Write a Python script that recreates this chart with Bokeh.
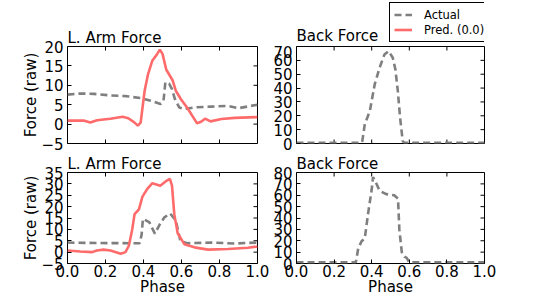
import math
from bokeh.plotting import figure
from bokeh.layouts import column, row
from bokeh.models import Range1d, FixedTicker, Legend, LegendItem
from bokeh.core.properties import value
from bokeh.embed import file_html
from bokeh.resources import INLINE

FONT = "DejaVu Sans"
RED = "#ff6b6b"
GRAY = "#7f7f7f"

# ---- data ----
x_ticks = [0.0, 0.2, 0.4, 0.6, 0.8, 1.0]
x_tick_labels = ["0.0", "0.2", "0.4", "0.6", "0.8", "1.0"]

arm_top_ticks = [-5, 0, 5, 10, 15, 20]
arm_bot_ticks = [-5, 0, 5, 10, 15, 20, 25, 30, 35]
back_top_ticks = [0, 10, 20, 30, 40, 50, 60, 70]
back_bot_ticks = [0, 10, 20, 30, 40, 50, 60, 70, 80]

tl_pred_x = [0, 0.085, 0.12, 0.155, 0.226, 0.29, 0.32, 0.35, 0.37, 0.385, 0.406, 0.424, 0.447, 0.47, 0.486, 0.5, 0.52, 0.553, 0.57, 0.597, 0.63, 0.682, 0.703, 0.724, 0.753, 0.81, 0.88, 1.0]
tl_pred_y = [0.9, 0.9, 0.4, 1.0, 1.4, 1.9, 1.5, 0.5, -0.4, 0.4, 8.6, 12.9, 16.4, 17.9, 19.2, 18.1, 14.0, 11.3, 8.6, 6.4, 4.2, 0.2, 0.6, 1.4, 0.7, 1.3, 1.6, 1.8]

tl_act_x = [0, 0.067, 0.138, 0.226, 0.31, 0.385, 0.438, 0.49, 0.505, 0.515, 0.535, 0.55, 0.565, 0.588, 0.615, 0.668, 0.756, 0.845, 0.9, 1.0]
tl_act_y = [7.6, 7.9, 7.8, 7.4, 7.2, 6.7, 6.0, 5.2, 5.8, 10.8, 10.4, 9.0, 6.5, 4.3, 3.9, 4.3, 4.5, 4.7, 4.1, 5.0]

bl_pred_x = [0, 0.067, 0.13, 0.155, 0.19, 0.226, 0.28, 0.305, 0.323, 0.34, 0.353, 0.376, 0.394, 0.42, 0.447, 0.46, 0.488, 0.518, 0.539, 0.55, 0.562, 0.58, 0.615, 0.668, 0.74, 0.845, 0.95, 1.0]
bl_pred_y = [0.7, 0.3, 0.0, 0.7, 1.1, 0.7, -0.7, 0.0, 2.8, 9.7, 16.7, 18.8, 24.3, 27.8, 30.3, 29.9, 29.2, 31.2, 32.2, 29.2, 16.7, 8.3, 3.5, 2.1, 1.1, 1.4, 1.9, 2.5]

bl_act_x = [0, 0.15, 0.38, 0.39, 0.397, 0.43, 0.46, 0.483, 0.51, 0.54, 0.57, 0.594, 0.63, 0.756, 0.88, 1.0]
bl_act_y = [4.2, 4.0, 3.9, 7.6, 14.6, 13.2, 8.1, 11.8, 15.3, 17.0, 13.9, 4.9, 3.9, 4.2, 3.8, 4.2]

tr_act_x = [0, 0.2, 0.345, 0.35, 0.363, 0.39, 0.416, 0.442, 0.468, 0.49, 0.512, 0.526, 0.539, 0.551, 0.565, 0.574, 0.8, 1.0]
tr_act_y = [0.5, 0.5, 0.5, 1.7, 13.7, 23.4, 42.7, 54.7, 64.3, 66.7, 61.9, 53.5, 37.8, 18.6, 1.7, 0.5, 0.5, 0.5]

br_act_x = [0, 0.2, 0.315, 0.32, 0.328, 0.346, 0.363, 0.38, 0.4, 0.407, 0.42, 0.442, 0.477, 0.52, 0.54, 0.547, 0.56, 0.574, 0.586, 0.6, 0.8, 1.0]
br_act_y = [1.0, 1.0, 1.0, 5.0, 13.0, 19.5, 22.0, 43.0, 65.0, 76.0, 72.0, 64.0, 61.0, 60.0, 57.0, 30.0, 10.0, 6.0, 5.0, 1.0, 1.0, 1.0]

legend_labels = ["Actual", "Pred. (0.0)"]
titles = ["L. Arm Force", "Back Force"]


def minus(v):
    return str(v).replace("-", "\u2212")


def make_fig(width, height, bl, br, bt, bb, yr, yticks, title, show_x, ylabel):
    p = figure(width=width, height=height, x_range=Range1d(0, 1), y_range=Range1d(*yr),
               output_backend="svg", toolbar_location=None,
               x_axis_location="below" if show_x else None, y_axis_location="left",
               min_border_left=bl, min_border_right=br, min_border_top=bt, min_border_bottom=bb)
    p.grid.visible = False
    p.outline_line_color = "black"
    p.outline_line_width = 1
    p.outline_line_alpha = 1
    p.background_fill_color = "white"
    p.border_fill_color = "white"

    axes = [p.yaxis[0]]
    ya = p.yaxis[0]
    ya.ticker = FixedTicker(ticks=yticks)
    ya.major_label_overrides = {t: minus(t) for t in yticks}
    ya.major_label_standoff = 4
    if show_x:
        xa = p.xaxis[0]
        xa.ticker = FixedTicker(ticks=x_ticks)
        xa.major_label_overrides = {t: l for t, l in zip(x_ticks, x_tick_labels)}
        axes.append(xa)
    for ax in axes:
        ax.major_tick_in = 4
        ax.major_tick_out = 0
        ax.minor_tick_in = 0
        ax.minor_tick_out = 0
        ax.axis_line_color = None
        ax.major_tick_line_color = "black"
        ax.major_label_text_font = FONT
        ax.major_label_text_font_size = "15px"
        ax.major_label_text_color = "black"
        ax.axis_label_text_font = FONT
        ax.axis_label_text_font_size = "15px"
        ax.axis_label_text_font_style = "normal"
        ax.axis_label_text_color = "black"
    if show_x:
        xa.major_label_standoff = 1
        xa.axis_label = "Phase"
        xa.axis_label_standoff = -2
    if ylabel:
        ya.axis_label = ylabel
        ya.axis_label_standoff = -2

    # inward ticks on the remaining sides
    ymin, ymax = yr
    p.ray(x=[1.0] * len(yticks), y=yticks, length=4, length_units="screen", angle=math.pi,
          line_color="black", line_width=1)
    p.ray(x=x_ticks, y=[ymax] * len(x_ticks), length=4, length_units="screen", angle=-math.pi / 2,
          line_color="black", line_width=1)
    if not show_x:
        p.ray(x=x_ticks, y=[ymin] * len(x_ticks), length=4, length_units="screen", angle=math.pi / 2,
              line_color="black", line_width=1)

    if title:
        p.title.text = title
        p.title.align = "left"
        p.title.text_font = FONT
        p.title.text_font_size = "15px"
        p.title.text_font_style = "normal"
        p.title.text_color = "black"
        p.title.standoff = 0
        p.title.offset = 0
    return p


LW = 2.6
DASH = "7 4"

# top-left
p1 = make_fig(270, 152, 67, 13, 46, 9, (-5, 20), arm_top_ticks, titles[0], False, "Force (raw)")
p1.line(tl_act_x, tl_act_y, line_color=GRAY, line_width=LW, line_dash=DASH)
p1.line(tl_pred_x, tl_pred_y, line_color=RED, line_width=LW)

# top-right: header strip (title + legend) above the plot body; its frame is
# aligned with the body's frame, ranges are in pixels of that strip
head = figure(width=250, height=45, x_range=Range1d(0, 191), y_range=Range1d(0, 45),
              output_backend="svg", toolbar_location=None,
              x_axis_location=None, y_axis_location=None,
              min_border_left=0, min_border_right=0, min_border_top=0, min_border_bottom=0)
head.grid.visible = False
head.outline_line_color = None
head.background_fill_color = "white"
head.border_fill_color = "white"
head.text(x=[0], y=[1], text=[titles[1]], text_font=value(FONT), text_font_size=value("15px"),
          text_color="black", text_baseline="bottom", text_align="left")
r_act_leg = head.line(tr_act_x, tr_act_y, line_color=GRAY, line_width=LW, line_dash=DASH, visible=False)
r_pred_leg = head.line(tl_pred_x, tl_pred_y, line_color=RED, line_width=LW, visible=False)
legend = Legend(items=[LegendItem(label=legend_labels[0], renderers=[r_act_leg]),
                       LegendItem(label=legend_labels[1], renderers=[r_pred_leg])],
                location=(93, 3))
legend.label_text_font = FONT
legend.label_text_font_size = "11.5px"
legend.label_text_color = "black"
legend.border_line_color = "black"
legend.border_line_width = 1.3
legend.border_line_alpha = 1
legend.background_fill_color = "white"
legend.background_fill_alpha = 1
legend.inactive_fill_alpha = 0
legend.padding = 4
legend.spacing = 0
legend.margin = 0
legend.label_height = 15
legend.glyph_height = 15
legend.glyph_width = 18
legend.label_standoff = 12
head.add_layout(legend, "center")

p2 = make_fig(250, 107, 23, 36, 1, 9, (0, 70), back_top_ticks, None, False, None)
p2.line(tr_act_x, tr_act_y, line_color=GRAY, line_width=LW, line_dash=DASH)

# bottom row
p3 = make_fig(270, 146, 67, 13, 16, 33, (-5, 35), arm_bot_ticks, titles[0], True, "Force (raw)")
p3.line(bl_act_x, bl_act_y, line_color=GRAY, line_width=LW, line_dash=DASH)
p3.line(bl_pred_x, bl_pred_y, line_color=RED, line_width=LW)

p4 = make_fig(250, 146, 23, 36, 16, 33, (0, 80), back_bot_ticks, titles[1], True, None)
p4.line(br_act_x, br_act_y, line_color=GRAY, line_width=LW, line_dash=DASH)

layout = column(row(p1, column(head, p2)), row(p3, p4))

open("out.html", "w").write(file_html(layout, INLINE))
